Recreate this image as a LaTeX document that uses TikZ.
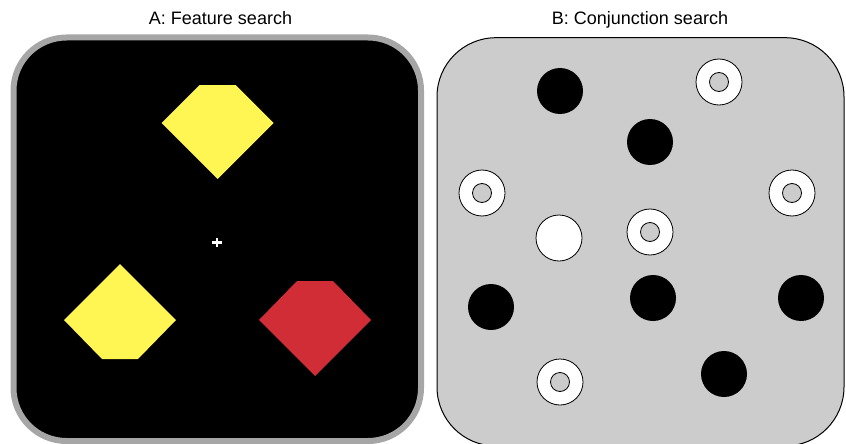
\documentclass[tikz,border=0pt]{standalone}
\usepackage{fontspec}
\setmainfont{Liberation Sans}
\usepackage{xcolor}
\definecolor{featyellow}{RGB}{255,246,84}
\definecolor{featred}{RGB}{208,45,54}
\definecolor{rimgray}{RGB}{166,166,166}
\definecolor{bggray}{RGB}{204,204,204}

\begin{document}
\begin{tikzpicture}[x=1pt, y=-1pt,
    title/.style={anchor=base, font=\fontsize{18}{21}\selectfont},
    blackdot/.style={fill=black},
    ringdot/.style={draw=black, line width=0.8pt, fill=white},
    holedot/.style={draw=black, line width=0.8pt, fill=bggray}]
  \useasboundingbox (0,0) rectangle (846,444);
  \clip (0,0) rectangle (846,444);
  % titles
  \node[title] (titleA) at (220.5,25) {A: Feature search};
  \node[title] (titleB) at (640,25) {B: Conjunction search};
  % panel A
  \draw[rimgray, line width=6pt, fill=black, rounded corners=53pt]
    (13.5,37.5) rectangle (421,441);
  \fill[featyellow] (199.5,85) -- (235.5,85) -- (273.5,123) -- (217.5,179) -- (161.5,123) -- cycle;
  \fill[featyellow] (120,264) -- (176,320) -- (138,359) -- (102,359) -- (64,320) -- cycle;
  \fill[featred] (297,281) -- (333,281) -- (371,320) -- (315,376) -- (259,320) -- cycle;
  \draw[white, line width=2.4pt] (212,242.3) -- (221.5,242.3);
  \draw[white, line width=2.4pt] (216.7,237.5) -- (216.7,247);
  % panel B
  \draw[black, line width=1pt, fill=bggray, rounded corners=59pt]
    (437,37.7) rectangle (844,446);
  \foreach \x/\y in {560/91, 650/142, 491/307, 653/298, 801/298, 724/374}
    \fill[blackdot] (\x,\y) circle (23);
  \foreach \x/\y in {719/82, 482/193, 792/193, 650/232, 560/382} {
    \draw[ringdot] (\x,\y) circle (23);
    \draw[holedot] (\x,\y) circle (9.5);
  }
  \draw[ringdot] (559,238) circle (23);
\end{tikzpicture}
\end{document}
